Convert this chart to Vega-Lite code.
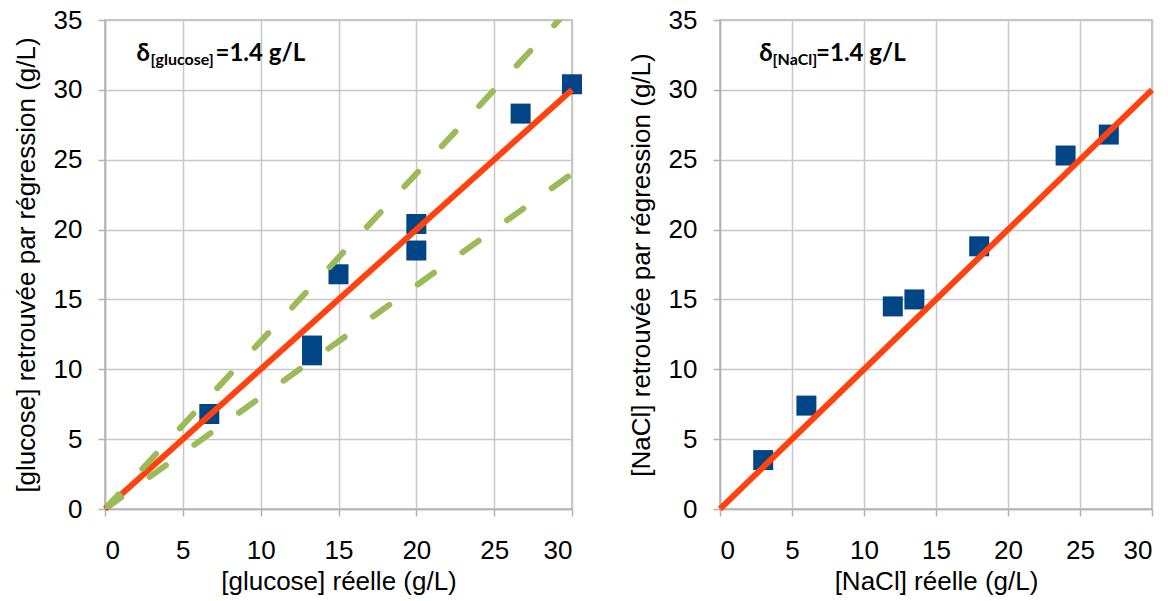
{
  "$schema": "https://vega.github.io/schema/vega-lite/v6.json",
  "background": "white",
  "padding": {"left": 12, "top": 6, "right": 0, "bottom": 0},
  "spacing": 42,
  "datasets": {
    "glu": [
      {"reelle": 6.7, "retrouvee": 6.8},
      {"reelle": 13.3, "retrouvee": 11.0},
      {"reelle": 13.3, "retrouvee": 11.7},
      {"reelle": 15.0, "retrouvee": 16.8},
      {"reelle": 20.0, "retrouvee": 18.5},
      {"reelle": 20.0, "retrouvee": 20.4},
      {"reelle": 26.7, "retrouvee": 28.3},
      {"reelle": 30.0, "retrouvee": 30.4}
    ],
    "nacl": [
      {"reelle": 3.0, "retrouvee": 3.5},
      {"reelle": 6.0, "retrouvee": 7.4},
      {"reelle": 12.0, "retrouvee": 14.5},
      {"reelle": 13.5, "retrouvee": 15.0},
      {"reelle": 18.0, "retrouvee": 18.8},
      {"reelle": 24.0, "retrouvee": 25.3},
      {"reelle": 27.0, "retrouvee": 26.8}
    ],
    "fit": [{"reelle": 0, "retrouvee": 0}, {"reelle": 30, "retrouvee": 30}],
    "upper": [{"reelle": 0, "retrouvee": 0}, {"reelle": 30, "retrouvee": 36}],
    "lower": [{"reelle": 0, "retrouvee": 0}, {"reelle": 30, "retrouvee": 24}],
    "gluMain": [{"reelle": 2.02, "retrouvee": 32.1, "t": "δ"}, {"reelle": 7.1, "retrouvee": 32.1, "t": "=1.4 g/L"}],
    "gluSub": [{"reelle": 2.92, "retrouvee": 31.75, "t": "[glucose]"}],
    "naclMain": [{"reelle": 2.73, "retrouvee": 32.1, "t": "δ"}, {"reelle": 6.67, "retrouvee": 32.1, "t": "=1.4 g/L"}],
    "naclSub": [{"reelle": 3.65, "retrouvee": 31.75, "t": "[NaCl]"}]
  },
  "hconcat": [
    {
      "width": 467,
      "height": 489,
      "encoding": {
        "x": {"field": "reelle", "type": "quantitative", "scale": {"domain": [0, 30], "nice": false}, "axis": {"values": [0, 5, 10, 15, 20, 25, 30], "title": "[glucose] réelle (g/L)"}},
        "y": {"field": "retrouvee", "type": "quantitative", "scale": {"domain": [0, 35], "nice": false}, "axis": {"values": [0, 5, 10, 15, 20, 25, 30, 35], "title": "[glucose] retrouvée par régression (g/L)"}}
      },
      "layer": [
        {"data": {"name": "glu"}, "mark": {"type": "point", "shape": "square", "filled": true, "size": 400, "opacity": 1, "color": "#004586"}},
        {"data": {"name": "fit"}, "mark": {"type": "line", "color": "#ff420e", "strokeWidth": 6}},
        {"data": {"name": "upper"}, "mark": {"type": "line", "color": "#9bbb59", "strokeWidth": 6, "strokeDash": [20, 35], "strokeCap": "round", "clip": true}},
        {"data": {"name": "lower"}, "mark": {"type": "line", "color": "#9bbb59", "strokeWidth": 6, "strokeDash": [20, 35], "strokeCap": "round", "clip": true}},
        {"data": {"name": "gluMain"}, "mark": {"type": "text", "align": "left", "baseline": "alphabetic", "font": "Lato", "fontWeight": "bold", "fontSize": 24, "color": "black"}, "encoding": {"text": {"field": "t"}}},
        {"data": {"name": "gluSub"}, "mark": {"type": "text", "align": "left", "baseline": "alphabetic", "font": "Lato", "fontWeight": "bold", "fontSize": 16, "color": "black"}, "encoding": {"text": {"field": "t"}}}
      ]
    },
    {
      "width": 432,
      "height": 489,
      "encoding": {
        "x": {"field": "reelle", "type": "quantitative", "scale": {"domain": [0, 30], "nice": false}, "axis": {"values": [0, 5, 10, 15, 20, 25, 30], "title": "[NaCl] réelle (g/L)"}},
        "y": {"field": "retrouvee", "type": "quantitative", "scale": {"domain": [0, 35], "nice": false}, "axis": {"values": [0, 5, 10, 15, 20, 25, 30, 35], "title": "[NaCl] retrouvée par régression (g/L)"}}
      },
      "layer": [
        {"data": {"name": "nacl"}, "mark": {"type": "point", "shape": "square", "filled": true, "size": 400, "opacity": 1, "color": "#004586"}},
        {"data": {"name": "fit"}, "mark": {"type": "line", "color": "#ff420e", "strokeWidth": 6}},
        {"data": {"name": "naclMain"}, "mark": {"type": "text", "align": "left", "baseline": "alphabetic", "font": "Lato", "fontWeight": "bold", "fontSize": 24, "color": "black"}, "encoding": {"text": {"field": "t"}}},
        {"data": {"name": "naclSub"}, "mark": {"type": "text", "align": "left", "baseline": "alphabetic", "font": "Lato", "fontWeight": "bold", "fontSize": 16, "color": "black"}, "encoding": {"text": {"field": "t"}}}
      ]
    }
  ],
  "config": {
    "view": {"stroke": "#b3b3b3", "strokeWidth": 1.5},
    "axis": {
      "labelFont": "Liberation Sans",
      "labelFontSize": 26,
      "labelColor": "black",
      "titleFont": "Liberation Sans",
      "titleFontSize": 26,
      "titleFontWeight": "normal",
      "titleColor": "black",
      "gridColor": "#c8c8c8",
      "gridWidth": 1.5,
      "gridOpacity": 1,
      "domainColor": "#b3b3b3",
      "domainWidth": 1.5,
      "tickColor": "#b3b3b3",
      "tickWidth": 1.5,
      "tickSize": 7
    },
    "axisX": {"labelPadding": 21, "titlePadding": 5},
    "axisY": {"labelPadding": 16, "titlePadding": 14}
  }
}
